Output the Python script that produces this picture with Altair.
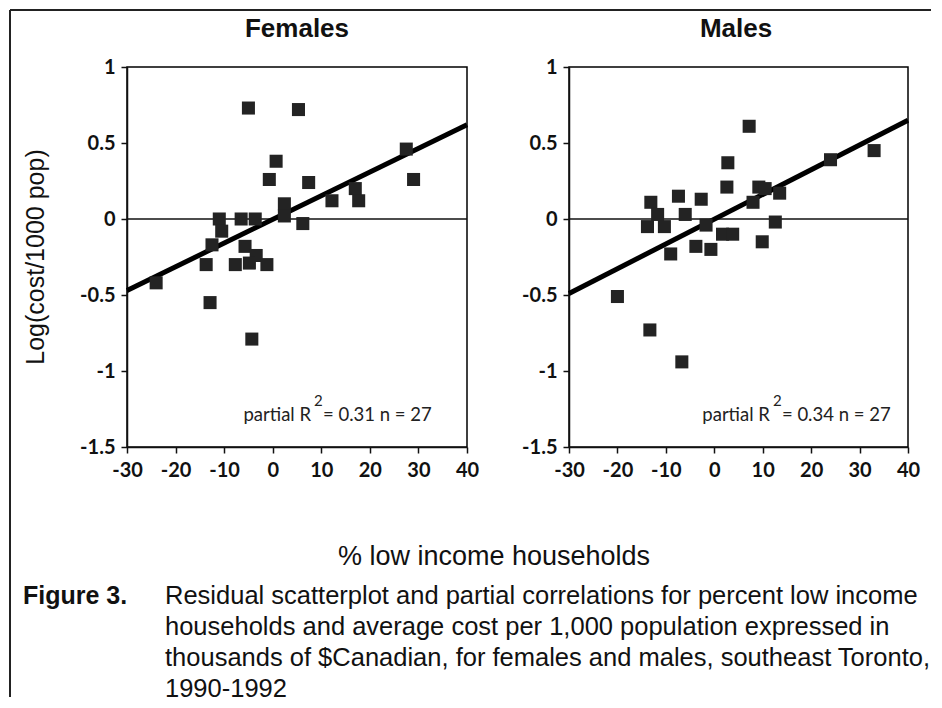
import altair as alt
import pandas as pd

# ---------------- data ----------------
fem_x = [-5, 5.3, 27.5, 0.7, -0.7, 7.4, 29, 12.2, 17, 17.7,
         2.4, 2.4, 6.2, -11, -10.5, -6.5, -3.6, -12.5, -5.7, -24,
         -13.7, -7.7, -3.4, -1.2, -4.8, -12.9, -4.3]
fem_y = [0.73, 0.72, 0.46, 0.38, 0.26, 0.24, 0.26, 0.12, 0.20, 0.12,
         0.10, 0.02, -0.03, 0.0, -0.08, 0.0, 0.0, -0.17, -0.18, -0.42,
         -0.30, -0.30, -0.24, -0.30, -0.29, -0.55, -0.79]

male_x = [7.2, 2.8, 2.6, 9.2, 10.5, 13.5, 8, -13.1, -7.4, -2.7,
          -11.7, -6, -13.8, -10.3, -1.7, 1.7, 3.8, 12.6, 9.9, -3.8,
          -0.7, -9, -20, -13.3, -6.7, 24, 33]
male_y = [0.61, 0.37, 0.21, 0.21, 0.20, 0.17, 0.11, 0.11, 0.15, 0.13,
          0.03, 0.03, -0.05, -0.05, -0.04, -0.10, -0.10, -0.02, -0.15, -0.18,
          -0.20, -0.23, -0.51, -0.73, -0.94, 0.39, 0.45]

fem_fit_x = [-30, 40]
fem_fit_y = [-0.47, 0.62]
male_fit_x = [-30, 40]
male_fit_y = [-0.49, 0.65]

x_ticks = [-30, -20, -10, 0, 10, 20, 30, 40]
y_ticks = [-1.5, -1.25, -1.0, -0.75, -0.5, -0.25, 0.0, 0.25, 0.5, 0.75, 1.0]
x_domain = [-30, 40]
y_domain = [-1.5, 1]

panel_titles = ["Females", "Males"]
stats_text = ["= 0.31 n = 27", "= 0.34 n = 27"]
stats_anchor_x = [8.3, 11.9]
stats_anchor_y = -1.33

y_title = "Log(cost/1000 pop)"
x_title = "% low income households"
fig_label = "Figure 3."
caption_lines = [
    "Residual scatterplot and partial correlations for percent low income",
    "households and average cost per 1,000 population expressed in",
    "thousands of $Canadian, for females and males, southeast Toronto,",
    "1990-1992",
]

TICK_FONT = "Lato"
ARIAL = "Liberation Sans"
W_F, W_M, H = 340, 339, 380


def one(d):
    return pd.DataFrame([d])


def label_text(t, x, y, size, weight="normal", align="left", angle=0, font=ARIAL):
    kw = dict(font=font, fontSize=size, fontWeight=weight, align=align,
              baseline="middle", color="#111")
    if angle:
        kw["angle"] = angle
    return alt.Chart(one({"t": t})).mark_text(**kw).encode(
        text="t:N", x=alt.value(x), y=alt.value(y))


def panel(idx, px, py, fx, fy, first):
    xs = alt.Scale(domain=x_domain, nice=False, zero=False)
    ys = alt.Scale(domain=y_domain, nice=False, zero=False)
    xaxis = alt.Axis(values=x_ticks, labelExpr="toString(datum.value)",
                     title=None, grid=False, labelFlush=False)
    yaxis = alt.Axis(values=y_ticks,
                     labelExpr="datum.value % 0.5 == 0 ? toString(datum.value) : ''",
                     title=None, grid=False, labelFlush=False)

    pts = alt.Chart(pd.DataFrame({"x": px, "y": py})).mark_square(
        size=170, color="#232323", opacity=1
    ).encode(x=alt.X("x:Q", scale=xs, axis=xaxis),
             y=alt.Y("y:Q", scale=ys, axis=yaxis))

    zero = alt.Chart(pd.DataFrame({"y": [0.0]})).mark_rule(
        color="#111", strokeWidth=1.5
    ).encode(y=alt.Y("y:Q", scale=ys))

    fit = alt.Chart(pd.DataFrame({"x": fx, "y": fy})).mark_line(
        color="black", strokeWidth=5
    ).encode(x=alt.X("x:Q", scale=xs), y=alt.Y("y:Q", scale=ys))

    ann_df = one({"x": stats_anchor_x[idx], "y": stats_anchor_y})
    ann1 = alt.Chart(ann_df).mark_text(
        text="partial R", font=TICK_FONT, fontSize=18.5, align="right",
        baseline="alphabetic", dx=-2, color="#222"
    ).encode(x=alt.X("x:Q", scale=xs), y=alt.Y("y:Q", scale=ys))
    ann2 = alt.Chart(ann_df).mark_text(
        text="2", font=TICK_FONT, fontSize=15, align="left",
        baseline="alphabetic", dx=1, dy=-15, color="#222"
    ).encode(x=alt.X("x:Q", scale=xs), y=alt.Y("y:Q", scale=ys))
    ann3 = alt.Chart(ann_df).mark_text(
        text=stats_text[idx], font=TICK_FONT, fontSize=18.5, align="left",
        baseline="alphabetic", dx=10, color="#222"
    ).encode(x=alt.X("x:Q", scale=xs), y=alt.Y("y:Q", scale=ys))

    w = W_F if first else W_M
    ttl = label_text(panel_titles[idx], 170 if first else 167, -38, 26,
                     weight="bold", align="center")

    layers = [zero, fit, pts, ann1, ann2, ann3, ttl]

    if first:
        layers.append(label_text(y_title, -91, 190, 25, align="center", angle=270))
        layers.append(label_text(x_title, 367, 490, 27, align="center"))
        layers.append(label_text(fig_label, -104, 529, 25, weight="bold"))
        for i, line in enumerate(caption_lines):
            layers.append(label_text(line, 38, 529 + 31 * i, 25.5))
        frame_top = alt.Chart(one({"a": 0})).mark_rule(
            color="#222", strokeWidth=2
        ).encode(x=alt.value(-117), x2=alt.value(804), y=alt.value(-57))
        frame_left = alt.Chart(one({"a": 0})).mark_rule(
            color="#222", strokeWidth=2
        ).encode(x=alt.value(-117), y=alt.value(-57), y2=alt.value(630))
        layers += [frame_top, frame_left]

    return alt.layer(*layers).properties(width=w, height=H)


female = panel(0, fem_x, fem_y, fem_fit_x, fem_fit_y, True)
male = panel(1, male_x, male_y, male_fit_x, male_fit_y, False)

chart = alt.hconcat(female, male, spacing=102, bounds="flush").properties(
    padding=0
).configure_view(
    stroke="black", strokeWidth=1.5
).configure_axis(
    labelFont=TICK_FONT, labelFontSize=20, labelFontWeight="bold",
    labelColor="#111", tickColor="#111", domainColor="#111",
    domainWidth=1.5, tickWidth=1.5, tickSize=6, grid=False
).configure_axisX(
    labelPadding=7
).configure_axisY(
    labelPadding=6
)

chart.save("out.html", embed_options={"renderer": "svg", "actions": False})
